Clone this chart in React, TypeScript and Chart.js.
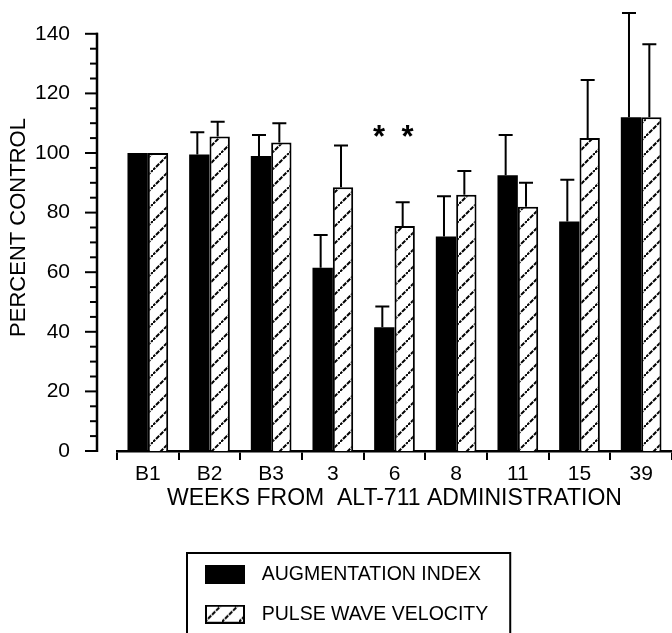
import React, { useEffect, useRef } from 'react';
import { Chart, registerables } from 'chart.js';

Chart.register(...registerables);

// ---- data ----
const CATEGORIES = ['B1', 'B2', 'B3', '3', '6', '8', '11', '15', '39'];
const SERIES_LABELS = ['AUGMENTATION INDEX', 'PULSE WAVE VELOCITY'];
const AUG_INDEX = [100, 99.5, 99, 61.5, 41.5, 72, 92.5, 77, 112];
const AUG_INDEX_ERR = [0, 7.5, 7, 11, 7, 13.5, 13.5, 14, 35];
const PWV = [100, 105.5, 103.5, 88.5, 75.5, 86, 82, 105, 112];
const PWV_ERR = [0, 5, 6.5, 14, 8, 8, 8, 19.5, 24.5];
const Y_TICKS = [0, 20, 40, 60, 80, 100, 120, 140];
const Y_MINOR_STEP = 5;
const SIG_CATEGORIES = ['6'];
const SIG_LEVEL = 108;
const X_TITLE = 'WEEKS FROM  ALT-711 ADMINISTRATION';
const Y_TITLE = 'PERCENT CONTROL';

const FONT = "'Liberation Sans', Arial, Helvetica, sans-serif";
const W = 672;
const H = 633;

function makeHatchTile(): HTMLCanvasElement {
  const c = document.createElement('canvas');
  c.width = 17;
  c.height = 17;
  const g = c.getContext('2d')!;
  g.fillStyle = '#fff';
  g.fillRect(0, 0, 17, 17);
  g.strokeStyle = '#000';
  g.lineWidth = 2;
  g.setLineDash([4.5, 1.2]);
  g.beginPath();
  g.moveTo(-1, 18);
  g.lineTo(18, -1);
  g.stroke();
  return c;
}

function makeSwatch(kind: 'solid' | 'hatch', tile: HTMLCanvasElement): HTMLCanvasElement {
  const c = document.createElement('canvas');
  c.width = 40;
  c.height = 19;
  const g = c.getContext('2d')!;
  if (kind === 'solid') {
    g.fillStyle = '#000';
    g.fillRect(0, 0, 40, 19);
  } else {
    g.fillStyle = g.createPattern(tile, 'repeat')!;
    g.fillRect(0, 0, 40, 19);
    g.strokeStyle = '#000';
    g.lineWidth = 2;
    g.strokeRect(1, 1, 38, 17);
  }
  return c;
}

export default function App() {
  const ref = useRef<HTMLCanvasElement | null>(null);

  useEffect(() => {
    const canvas = ref.current;
    if (!canvas) return;
    Chart.defaults.font.family = FONT;
    Chart.defaults.color = '#000';

    const tile = makeHatchTile();
    const hatch = canvas.getContext('2d')!.createPattern(tile, 'repeat')!;
    const swatches = [makeSwatch('solid', tile), makeSwatch('hatch', tile)];
    const errors = [AUG_INDEX_ERR, PWV_ERR];

    const yAxisPlugin = {
      id: 'detachedYAxis',
      afterDraw(chart: any) {
        const { ctx, chartArea } = chart;
        const y = chart.scales.y;
        const x0 = chartArea.left - 20;
        const top = Y_TICKS[Y_TICKS.length - 1];
        ctx.save();
        ctx.strokeStyle = '#000';
        ctx.lineWidth = 2.5;
        ctx.beginPath();
        ctx.moveTo(x0, y.getPixelForValue(0) + 1);
        ctx.lineTo(x0, y.getPixelForValue(top) - 1);
        ctx.stroke();
        ctx.lineWidth = 2;
        for (let v = 0; v <= top; v += Y_MINOR_STEP) {
          const major = Y_TICKS.includes(v);
          const py = y.getPixelForValue(v);
          ctx.beginPath();
          ctx.moveTo(x0 - (major ? 12 : 7), py);
          ctx.lineTo(x0 + 1, py);
          ctx.stroke();
        }
        ctx.restore();
      },
    };

    const errorBarPlugin = {
      id: 'errorBars',
      afterDatasetsDraw(chart: any) {
        const { ctx } = chart;
        const y = chart.scales.y;
        ctx.save();
        ctx.strokeStyle = '#000';
        ctx.lineWidth = 2;
        chart.data.datasets.forEach((ds: any, di: number) => {
          const meta = chart.getDatasetMeta(di);
          meta.data.forEach((bar: any, j: number) => {
            const e = errors[di][j];
            if (!e) return;
            const v = ds.data[j] as number;
            const yTop = y.getPixelForValue(v + e);
            const x = bar.x - 2;
            ctx.beginPath();
            ctx.moveTo(x, bar.y);
            ctx.lineTo(x, yTop);
            ctx.moveTo(x - 7, yTop);
            ctx.lineTo(x + 7, yTop);
            ctx.stroke();
          });
        });
        ctx.restore();
      },
    };

    const sigPlugin = {
      id: 'significance',
      afterDatasetsDraw(chart: any) {
        const { ctx } = chart;
        const xs = chart.scales.x;
        const ys = chart.scales.y;
        const size = 31;
        ctx.save();
        ctx.fillStyle = '#000';
        ctx.font = `bold ${size}px ${FONT}`;
        ctx.textAlign = 'center';
        ctx.textBaseline = 'alphabetic';
        SIG_CATEGORIES.forEach((cat) => {
          const idx = CATEGORIES.indexOf(cat);
          const cx = xs.getPixelForValue(idx);
          const py = ys.getPixelForValue(SIG_LEVEL) + size * 0.56;
          ctx.fillText('*', cx - 15.5, py);
          ctx.fillText('*', cx + 13, py);
        });
        ctx.restore();
      },
    };

    const legendPlacePlugin = {
      id: 'legendPlace',
      afterLayout(chart: any) {
        const lg = chart.legend;
        if (!lg) return;
        lg.left = 178;
        lg.top = 545;
        lg.width = 400;
        lg.height = 300;
        lg.right = lg.left + lg.width;
        lg.bottom = lg.top + lg.height;
      },
      afterDraw(chart: any) {
        const lg = chart.legend;
        if (!lg) return;
        const { ctx } = chart;
        ctx.save();
        ctx.font = `19.5px ${FONT}`;
        const maxW = Math.max(...SERIES_LABELS.map((t) => ctx.measureText(t).width));
        const left = lg.left + 9;
        const top = lg.top + 8;
        const right = lg.left + 20 + 54 + 9.75 + maxW + 22;
        ctx.strokeStyle = '#000';
        ctx.lineWidth = 2;
        ctx.strokeRect(left, top, right - left, 200);
        ctx.restore();
      },
    };

    const chart = new Chart(canvas, {
      type: 'bar',
      data: {
        labels: CATEGORIES,
        datasets: [
          {
            label: SERIES_LABELS[0],
            data: AUG_INDEX,
            backgroundColor: '#000',
            borderWidth: 0,
            categoryPercentage: 0.66,
            barPercentage: 1,
          },
          {
            label: SERIES_LABELS[1],
            data: PWV,
            backgroundColor: hatch as any,
            borderColor: '#000',
            borderWidth: 2,
            categoryPercentage: 0.66,
            barPercentage: 1,
          },
        ],
      },
      options: {
        animation: false,
        responsive: false,
        maintainAspectRatio: false,
        layout: { padding: { top: 4, left: 0, right: 0, bottom: 88 } },
        scales: {
          x: {
            grid: {
              display: true,
              drawOnChartArea: false,
              drawTicks: true,
              tickLength: 9,
              color: '#000',
              lineWidth: 2,
              offset: true,
            },
            border: { display: true, color: '#000', width: 2.5 },
            ticks: {
              font: { size: 21, family: FONT },
              color: '#000',
              padding: 2,
              maxRotation: 0,
              autoSkip: false,
            },
            title: {
              display: true,
              text: X_TITLE,
              color: '#000',
              font: { size: 23, family: FONT, lineHeight: 1 },
              padding: { top: 0, bottom: 35 },
            },
            afterFit: (s: any) => {
              s.height = 94;
              s.paddingLeft = 0;
              s.paddingRight = 0;
            },
          },
          y: {
            min: 0,
            max: 150,
            afterBuildTicks: (s: any) => {
              s.ticks = Y_TICKS.map((v) => ({ value: v }));
            },
            grid: { display: false },
            border: { display: false },
            ticks: {
              font: { size: 21, family: FONT },
              color: '#000',
              padding: 39,
            },
            title: {
              display: true,
              text: Y_TITLE,
              color: '#000',
              font: { size: 22, family: FONT },
              padding: { top: 6, bottom: 0 },
            },
            afterFit: (s: any) => {
              s.width = 117;
              s.paddingTop = 0;
              s.paddingBottom = 0;
            },
          },
        },
        plugins: {
          legend: {
            position: 'chartArea',
            align: 'start',
            labels: {
              usePointStyle: true,
              pointStyleWidth: 54,
              padding: 20,
              color: '#000',
              font: { size: 19.5, family: FONT },
              generateLabels: (c: any) =>
                c.data.datasets.map((ds: any, i: number) => ({
                  text: ds.label,
                  pointStyle: swatches[i],
                  fillStyle: '#000',
                  strokeStyle: '#000',
                  lineWidth: 0,
                  hidden: false,
                  datasetIndex: i,
                  fontColor: '#000',
                })),
            },
          },
          tooltip: { enabled: false },
        },
      } as any,
      plugins: [yAxisPlugin, errorBarPlugin, sigPlugin, legendPlacePlugin],
    });

    return () => chart.destroy();
  }, []);

  return (
    <div style={{ position: 'fixed', left: 0, top: 0, width: W, height: H, background: '#fff' }}>
      <canvas ref={ref} width={W} height={H} style={{ display: 'block', width: W, height: H }} />
    </div>
  );
}
